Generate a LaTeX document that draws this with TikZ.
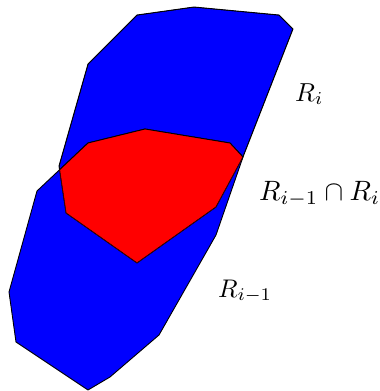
\documentclass[tikz,border=0pt]{standalone}
\usepackage{graphicx}
\begin{document}
\begin{tikzpicture}[x=1pt,y=-1pt,
  outline/.style={draw=black, line width=0.9pt, line join=round},
  lbl/.style={inner sep=0pt, anchor=base west}]
\useasboundingbox (0,0) rectangle (380,391);
% region R_i
\coordinate (a1) at (59,166);
\coordinate (a2) at (88,64);
\coordinate (a3) at (137,15);
\coordinate (a4) at (194,7);
\coordinate (a5) at (279,15);
\coordinate (a6) at (293,29);
\coordinate (a7) at (243,157);
\coordinate (a8) at (216,207);
\coordinate (a9) at (137,263);
\coordinate (a10) at (66,213);
% region R_{i-1}
\coordinate (b1) at (37,191);
\coordinate (b2) at (88,143);
\coordinate (b3) at (145,129);
\coordinate (b4) at (230,143);
\coordinate (b5) at (243,157);
\coordinate (b6) at (216,235);
\coordinate (b7) at (159,335);
\coordinate (b8) at (110,377);
\coordinate (b9) at (88,390);
\coordinate (b10) at (16,342);
\coordinate (b11) at (9,292);
\fill[blue] (a1) -- (a2) -- (a3) -- (a4) -- (a5) -- (a6) -- (a7) -- (a8) -- (a9) -- (a10) -- cycle;
\fill[blue] (b1) -- (b2) -- (b3) -- (b4) -- (b5) -- (b6) -- (b7) -- (b8) -- (b9) -- (b10) -- (b11) -- cycle;
\draw[outline] (a1) -- (a2) -- (a3) -- (a4) -- (a5) -- (a6) -- (a7) -- (a8) -- (a9) -- (a10) -- cycle;
\draw[outline] (b1) -- (b2) -- (b3) -- (b4) -- (b5) -- (b6) -- (b7) -- (b8) -- (b9) -- (b10) -- (b11) -- cycle;
\begin{scope}
\clip (a1) -- (a2) -- (a3) -- (a4) -- (a5) -- (a6) -- (a7) -- (a8) -- (a9) -- (a10) -- cycle;
\fill[red] (b1) -- (b2) -- (b3) -- (b4) -- (b5) -- (b6) -- (b7) -- (b8) -- (b9) -- (b10) -- (b11) -- cycle;
\draw[outline] (a1) -- (a2) -- (a3) -- (a4) -- (a5) -- (a6) -- (a7) -- (a8) -- (a9) -- (a10) -- cycle;
\draw[outline] (b1) -- (b2) -- (b3) -- (b4) -- (b5) -- (b6) -- (b7) -- (b8) -- (b9) -- (b10) -- (b11) -- cycle;
\end{scope}
\node[lbl] (li) at (295,101) {\scalebox{2.6}{$R_i$}};
\node[lbl] (lint) at (259,200) {\scalebox{2.8}{$R_{i-1}\cap R_i$}};
\node[lbl] (lim) at (218,297) {\scalebox{2.55}{$R_{i-1}$}};
\end{tikzpicture}
\end{document}
